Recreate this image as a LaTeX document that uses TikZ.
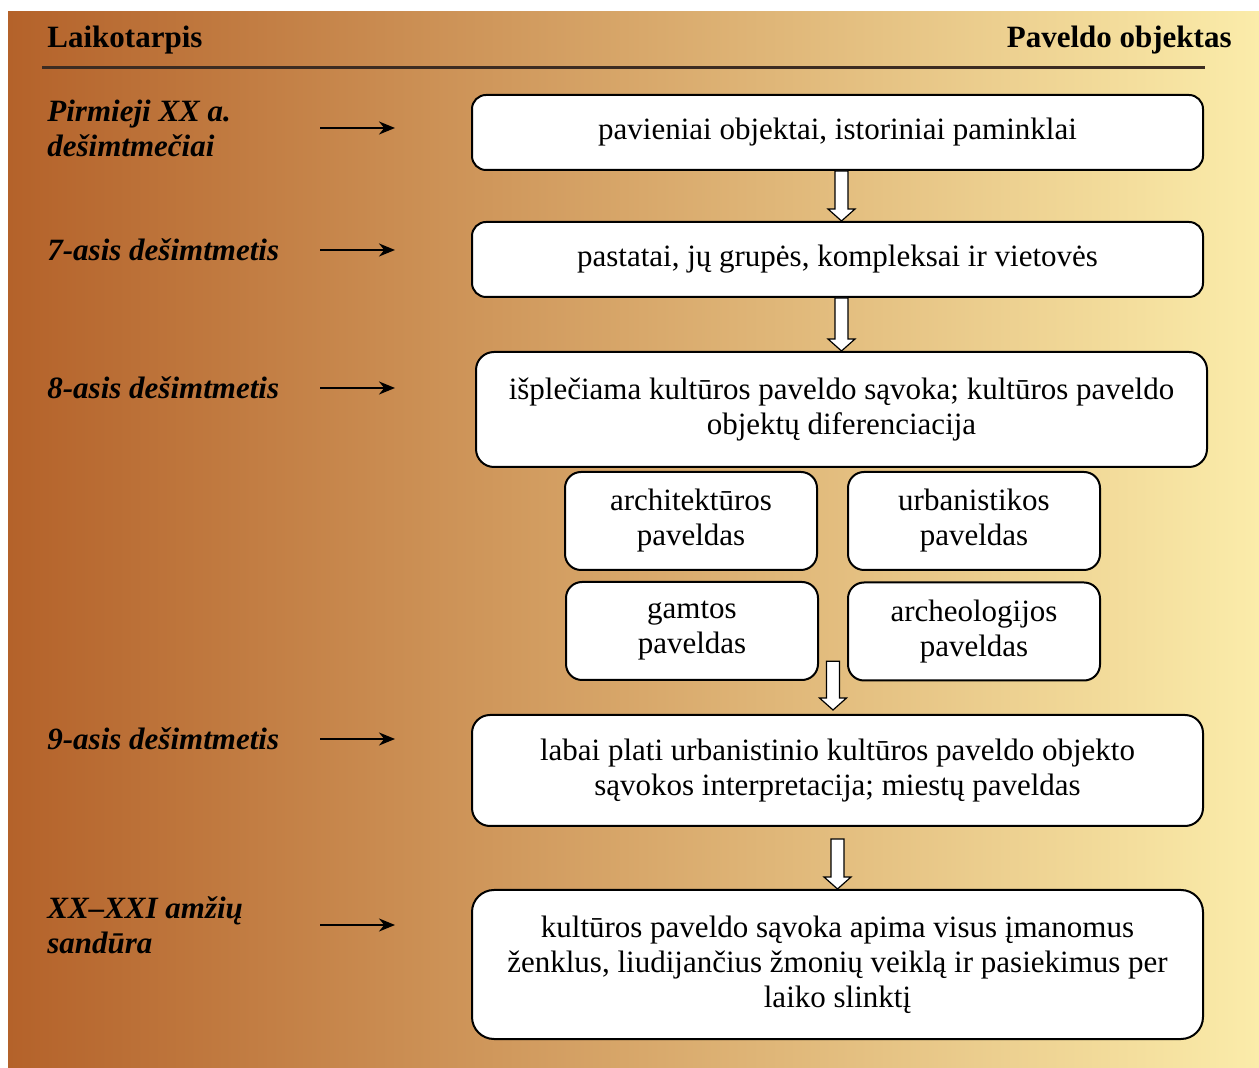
\documentclass[tikz,border=0pt]{standalone}
\usepackage{fontspec}
\setmainfont{Liberation Serif}
\usetikzlibrary{arrows.meta, positioning, calc}
\definecolor{bgl}{RGB}{180,98,42}
\definecolor{bgm}{RGB}{218,176,116}
\definecolor{bgr}{RGB}{251,236,170}
\definecolor{rulec}{RGB}{60,44,34}
\newcommand{\txtsize}{\fontsize{15.5}{17.5}\selectfont}

\begin{document}
\begin{tikzpicture}[
    x=0.5pt, y=-0.5pt,
    node distance = 25pt,
    box/.style = {rectangle, rounded corners=7pt, draw, fill=white, line width=1pt,
                  align=center, minimum width=365.5pt, minimum height=37.5pt, inner sep=2pt},
    small/.style = {box, rounded corners=8pt, minimum width=126pt, minimum height=49pt},
    lab/.style = {anchor=west, align=left, inner sep=0pt, font=\txtsize\bfseries\itshape},
    head/.style = {inner sep=0pt, font=\txtsize\bfseries},
    pil/.style = {black, line width=1.1pt, -{Stealth[length=8pt,width=6.5pt]}},
    fat/.style = {draw, fill=white, line width=0.6pt,
                  to path={($(\tikztostart)+(-3.25pt,0)$) -- ($(\tikztotarget)+(-3.25pt,6pt)$)
                  -- ($(\tikztotarget)+(-6.75pt,6pt)$) -- (\tikztotarget)
                  -- ($(\tikztotarget)+(6.75pt,6pt)$) -- ($(\tikztotarget)+(3.25pt,6pt)$)
                  -- ($(\tikztostart)+(3.25pt,0)$) -- cycle}},
    font=\txtsize
    ]

  % background
  \useasboundingbox (0,0) rectangle (1259,1068);
  \fill[white] (0,0) rectangle (1259,1068);
  \shade[left color=bgl, middle color=bgm, right color=bgr] (8,12) rectangle (1259,1068);

  % headings
  \node[head, anchor=west] (hl) at (47,40) {Laikotarpis};
  \node[head, anchor=east] (hr) at (1232,40) {Paveldo objektas};
  \draw[rulec, line width=1.5pt] (42,68) -- (1205,68);

  % periods
  \node[lab] (t1) at (47,128) {Pirmieji XX a.\\dešimtmečiai};
  \node[lab] (t2) at (47,250) {7-asis dešimtmetis};
  \node[lab] (t3) at (47,388) {8-asis dešimtmetis};
  \node[lab] (t4) at (47,739) {9-asis dešimtmetis};
  \node[lab] (t5) at (47,925) {XX--XXI amžių\\sandūra};

  % objects
  \node[box] (b1) at (837.5,132.5) {pavieniai objektai, istoriniai paminklai};
  \node[box] (b2) [below=of b1] {pastatai, jų grupės, kompleksai ir vietovės};
  \node[box, rounded corners=9pt, minimum height=57.5pt] (b3) [below=26.5pt of b2, xshift=2pt]
    {išplečiama kultūros paveldo sąvoka; kultūros paveldo\\objektų diferenciacija};

  \node[small] (s1) at (691,521) {architektūros\\paveldas};
  \node[small] (s2) at (974,521) {urbanistikos\\paveldas};
  \node[small] (s3) at (692,631) {gamtos\\paveldas};
  \node[small] (s4) at (974,631.5) {archeologijos\\paveldas};

  \node[box, rounded corners=9pt, minimum height=55.5pt] (b4) at (837.5,770.5)
    {labai plati urbanistinio kultūros paveldo objekto\\sąvokos interpretacija; miestų paveldas};
  \node[box, rounded corners=11pt, minimum height=74.5pt] (b5) [below=31pt of b4]
    {kultūros paveldo sąvoka apima visus įmanomus\\ženklus, liudijančius žmonių veiklą ir pasiekimus per\\laiko slinktį};

  % arrows
  \coordinate (ar) at (320,0);
  \coordinate (ah) at (395,0);
  \foreach \t in {t1,t2,t3,t4,t5}
    \draw[pil] (ar |- \t) -- (ah |- \t);

  \coordinate (gap) at ($(s3.south east)!.5!(s4.south west)$);
  \path (b1.south -| b3.north) [fat] to (b2.north -| b3.north);
  \path (b2.south -| b3.north) [fat] to (b3.north);
  \path ([yshift=10pt]gap) [fat] to ([yshift=2pt]gap |- b4.north);
  \path ([yshift=-6pt]b4.south) [fat] to (b5.north);

\end{tikzpicture}
\end{document}
